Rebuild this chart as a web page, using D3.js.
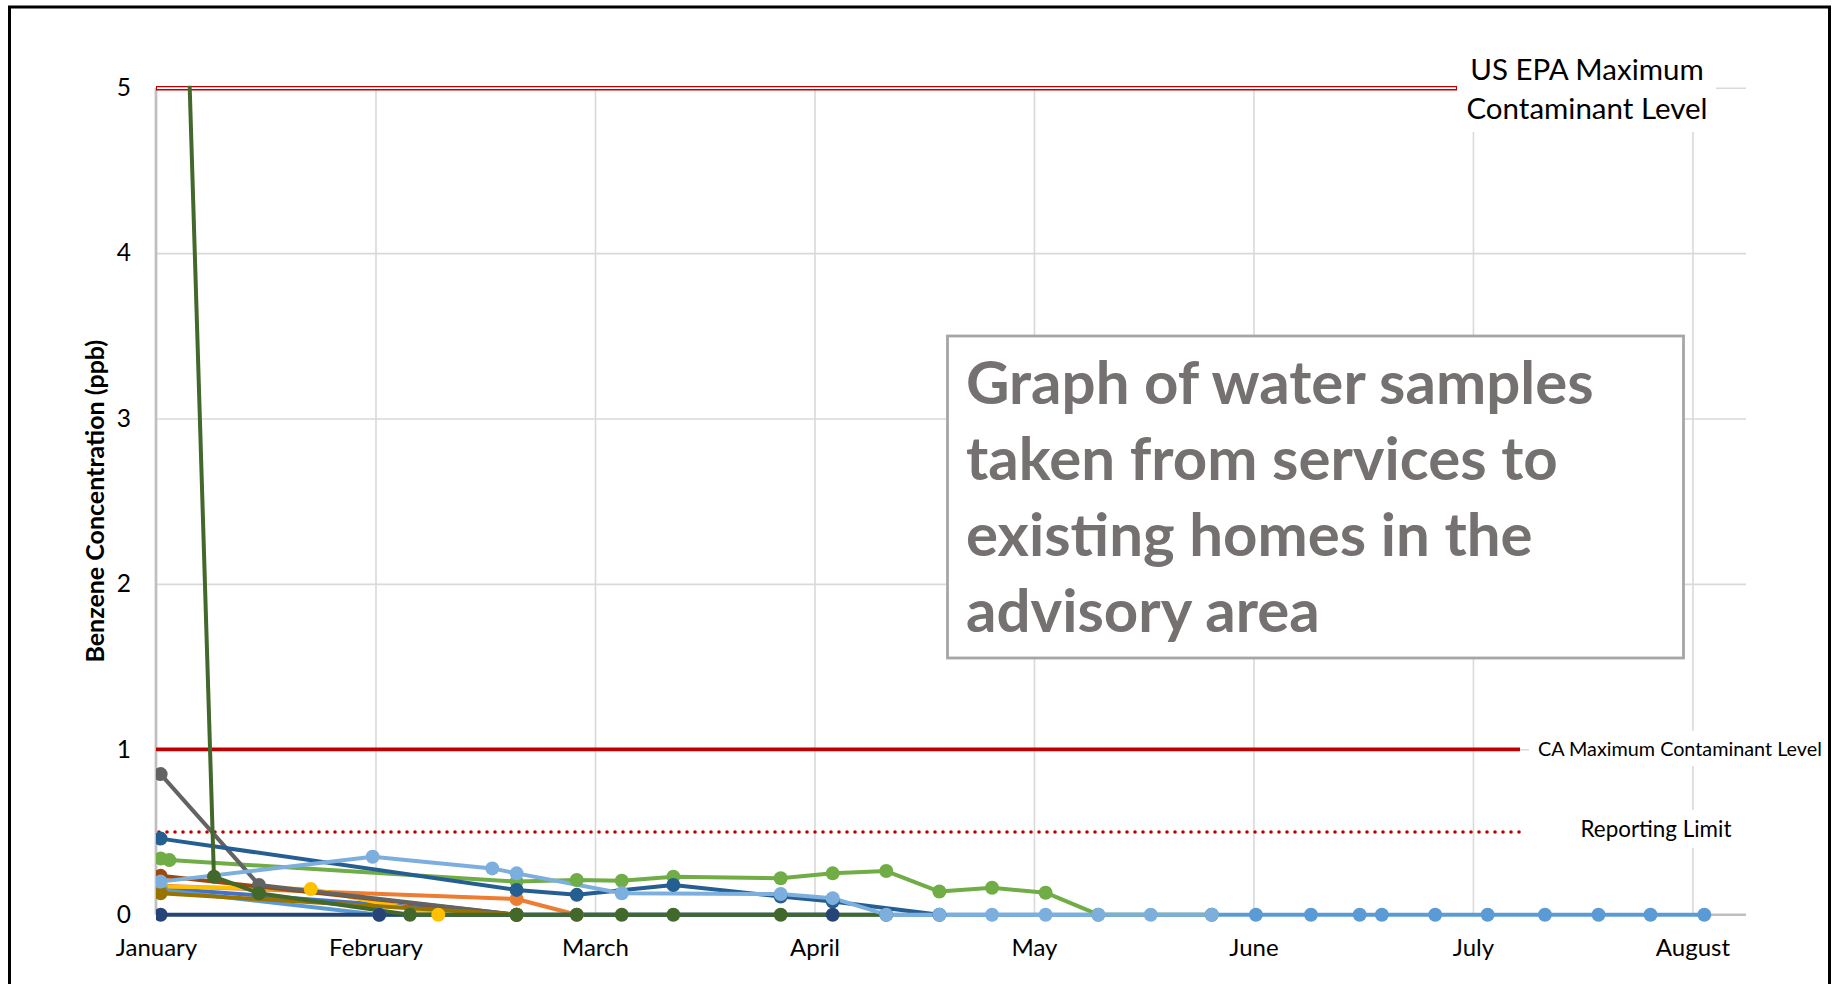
<!DOCTYPE html>
<html>
<head>
<meta charset="utf-8">
<script src="https://cdn.jsdelivr.net/npm/d3@7"></script>
<style>
  body { margin: 0; background: #fff; }
  text { font-family: Lato, "Open Sans", sans-serif; }
</style>
</head>
<body>
<div id="chart"></div>
<script>
// month labels on the x axis (x values are months since January 1st)
var monthLabels = ["January", "February", "March", "April", "May", "June", "July", "August"];
var yTickValues = [0, 1, 2, 3, 4, 5];

// reference levels (ppb)
var epaMcl = 5, caMcl = 1, reportingLimit = 0.5;
var epaLabel = ["US EPA Maximum", "Contaminant Level"];
var caLabel = "CA Maximum Contaminant Level";
var rlLabel = "Reporting Limit";
var titleLines = ["Graph of water samples", "taken from services to", "existing homes in the", "advisory area"];
var yTitle = "Benzene Concentration (ppb)";

// sampled services: months and benzene (ppb)
var blueMonths = [0.021, 1.643];
var bluePpb = [0.16, 0];
var orangeMonths = [0.021, 1.643, 1.917];
var orangePpb = [0.175, 0.095, 0];
var goldMonths = [0.021, 0.705, 1.286];
var goldPpb = [0.17, 0.155, 0];
var midBlueMonths = [0.021, 1.017, 4.81, 5.011, 5.262, 5.484, 5.585, 5.828, 6.067, 6.328, 6.572, 6.809, 7.054];
var midBluePpb = [0.15, 0, 0, 0, 0, 0, 0, 0, 0, 0, 0, 0, 0];
var greenMonths = [0.021, 0.061, 1.643, 1.917, 2.122, 2.357, 2.846, 3.083, 3.327, 3.569, 3.809, 4.053, 4.293, 4.81];
var greenPpb = [0.34, 0.33, 0.20, 0.21, 0.205, 0.23, 0.22, 0.25, 0.264, 0.14, 0.163, 0.133, 0, 0];
var navyMonths = [0.021, 1.017, 3.083];
var navyPpb = [0, 0, 0];
var brownMonths = [0.021, 1.643];
var brownPpb = [0.235, 0];
var darkGrayMonths = [0.021, 0.469, 1.643];
var darkGrayPpb = [0.85, 0.18, 0];
var darkGoldMonths = [0.021, 1.643];
var darkGoldPpb = [0.13, 0];
var darkBlueMonths = [0.021, 1.643, 1.917, 2.357, 2.846, 3.083, 3.569];
var darkBluePpb = [0.46, 0.15, 0.12, 0.18, 0.11, 0.08, 0];
var darkGreenMonths = [0.142, 0.264, 0.469, 1.157, 1.643, 1.917, 2.122, 2.357, 2.846, 3.327];
var darkGreenPpb = [5.5, 0.23, 0.13, 0, 0, 0, 0, 0, 0, 0];
var lightBlueMonths = [0.021, 0.987, 1.532, 1.643, 2.122, 2.846, 3.083, 3.327, 3.569, 3.809, 4.053, 4.293, 4.532, 4.81];
var lightBluePpb = [0.20, 0.35, 0.28, 0.25, 0.13, 0.125, 0.10, 0, 0, 0, 0, 0, 0, 0];

var seriesMonths = [blueMonths, orangeMonths, goldMonths, midBlueMonths, greenMonths, navyMonths,
  brownMonths, darkGrayMonths, darkGoldMonths, darkBlueMonths, darkGreenMonths, lightBlueMonths];
var seriesPpb = [bluePpb, orangePpb, goldPpb, midBluePpb, greenPpb, navyPpb,
  brownPpb, darkGrayPpb, darkGoldPpb, darkBluePpb, darkGreenPpb, lightBluePpb];
var seriesColors = ["#4472c4", "#ed7d31", "#ffc000", "#5b9bd5", "#70ad47", "#264478",
  "#9e480e", "#636363", "#997300", "#255e91", "#43682b", "#7cafdd"];

var width = 1835, height = 984,
    plotLeft = 156, plotRight = 1746, plotTop = 87.7, plotBottom = 914.7;

var svg = d3.select("#chart").append("svg")
    .attr("width", width)
    .attr("height", height);

var x = d3.scaleLinear().domain([0, 7.244]).range([plotLeft, plotRight]);
var y = d3.scaleLinear().domain([0, 5]).range([plotBottom, plotTop]);

// gridlines
var xGrid = svg.append("g")
    .attr("transform", "translate(0," + plotBottom + ")")
    .call(d3.axisBottom(x).tickValues(d3.range(1, 8)).tickSize(-(plotBottom - plotTop)).tickFormat(""));
xGrid.select(".domain").remove();
xGrid.selectAll("line").attr("stroke", "#d9d9d9").attr("stroke-width", 1.6);

var yGrid = svg.append("g")
    .attr("transform", "translate(" + plotLeft + ",0)")
    .call(d3.axisLeft(y).tickValues([1, 2, 3, 4, 5]).tickSize(-(plotRight - plotLeft)).tickFormat(""));
yGrid.select(".domain").remove();
yGrid.selectAll("line").attr("stroke", "#d9d9d9").attr("stroke-width", 1.6);

// axis lines
svg.append("line").attr("x1", plotLeft).attr("x2", plotRight).attr("y1", y(0)).attr("y2", y(0))
    .attr("stroke", "#bfbfbf").attr("stroke-width", 2.5);
svg.append("line").attr("x1", plotLeft).attr("x2", plotLeft).attr("y1", plotTop).attr("y2", plotBottom)
    .attr("stroke", "#bfbfbf").attr("stroke-width", 2.7);

// tick labels
var xAxis = svg.append("g")
    .attr("transform", "translate(0," + plotBottom + ")")
    .call(d3.axisBottom(x).tickValues(d3.range(0, 8)).tickSize(0).tickFormat(function(i) { return monthLabels[i]; }));
xAxis.select(".domain").remove();
xAxis.selectAll("text").attr("y", 41.5).attr("dy", null)
    .style("font-size", "24px").attr("fill", "#000");

var yAxis = svg.append("g")
    .attr("transform", "translate(" + plotLeft + ",0)")
    .call(d3.axisLeft(y).tickValues(yTickValues).tickSize(0).tickPadding(25).tickFormat(d3.format("d")));
yAxis.select(".domain").remove();
yAxis.selectAll("text").style("font-size", "24.5px").attr("fill", "#000");

svg.append("text")
    .attr("transform", "translate(94," + ((plotTop + plotBottom) / 2) + ") rotate(-90)")
    .attr("text-anchor", "middle")
    .attr("dominant-baseline", "central")
    .style("font-size", "25px").style("font-weight", "bold")
    .text(yTitle);

// reference lines
var xEndEpa = 1457, xEndCa = 1520;
svg.append("line").attr("x1", plotLeft).attr("x2", xEndEpa).attr("y1", y(epaMcl) + 0.5).attr("y2", y(epaMcl) + 0.5)
    .attr("stroke", "#c00000").attr("stroke-width", 4.6);
svg.append("line").attr("x1", plotLeft + 1).attr("x2", xEndEpa - 1).attr("y1", y(epaMcl) + 0.5).attr("y2", y(epaMcl) + 0.5)
    .attr("stroke", "#fff").attr("stroke-width", 1.8);
svg.append("line").attr("x1", plotLeft).attr("x2", xEndCa).attr("y1", y(caMcl)).attr("y2", y(caMcl))
    .attr("stroke", "#c00000").attr("stroke-width", 3.8);
svg.append("line").attr("x1", plotLeft + 3).attr("x2", xEndCa).attr("y1", y(reportingLimit)).attr("y2", y(reportingLimit))
    .attr("stroke", "#c00000").attr("stroke-width", 3.6)
    .attr("stroke-linecap", "round").attr("stroke-dasharray", "0 8");

// label backgrounds + labels
svg.append("rect").attr("x", xEndEpa).attr("y", 38).attr("width", 259).attr("height", 94).attr("fill", "#fff");
svg.append("rect").attr("x", 1529).attr("y", 731).attr("width", 298).attr("height", 35).attr("fill", "#fff");
svg.append("rect").attr("x", 1575).attr("y", 810).attr("width", 165).attr("height", 38).attr("fill", "#fff");

svg.append("text").attr("x", 1587).attr("y", 79.5).attr("text-anchor", "middle")
    .style("font-size", "29.5px").text(epaLabel[0]);
svg.append("text").attr("x", 1587).attr("y", 119).attr("text-anchor", "middle")
    .style("font-size", "29.5px").text(epaLabel[1]);
svg.append("text").attr("x", 1538).attr("y", 756).style("font-size", "19.8px").text(caLabel);
svg.append("text").attr("x", 1656).attr("y", 837).attr("text-anchor", "middle")
    .style("font-size", "22.4px").text(rlLabel);

// data
svg.append("clipPath").attr("id", "plotClip")
  .append("rect").attr("x", plotLeft).attr("y", plotTop - 2)
    .attr("width", plotRight - plotLeft).attr("height", height - plotTop);

var series = seriesMonths.map(function(ms, i) {
  return ms.map(function(m, j) { return {m: m, v: seriesPpb[i][j], color: seriesColors[i]}; });
});

var line = d3.line()
    .x(function(d) { return x(d.m); })
    .y(function(d) { return y(d.v); });

svg.append("g").attr("clip-path", "url(#plotClip)")
  .selectAll("path")
    .data(series)
  .enter().append("path")
    .attr("d", line)
    .attr("fill", "none")
    .attr("stroke", function(d) { return d[0].color; })
    .attr("stroke-width", 4)
    .attr("stroke-linejoin", "round")
    .attr("stroke-linecap", "round");

var markers = svg.append("g").attr("clip-path", "url(#plotClip)");
series.forEach(function(s) {
  markers.selectAll(null)
      .data(s)
    .enter().append("circle")
      .attr("cx", function(d) { return x(d.m); })
      .attr("cy", function(d) { return y(d.v); })
      .attr("r", 7)
      .attr("fill", function(d) { return d.color; });
});

// title box
svg.append("rect").attr("x", 947.5).attr("y", 336).attr("width", 736).attr("height", 322)
    .attr("fill", "#fff").attr("stroke", "#a6a6a6").attr("stroke-width", 2.8);
svg.selectAll(".title")
    .data(titleLines)
  .enter().append("text")
    .attr("class", "title")
    .attr("x", 966)
    .attr("y", function(d, i) { return 404 + i * 76; })
    .style("font-size", "60px").style("font-weight", "bold")
    .attr("fill", "#767171")
    .text(function(d) { return d; });

// outer frame
svg.append("rect").attr("x", 9.5).attr("y", 7).attr("width", 1820).attr("height", 1000)
    .attr("fill", "none").attr("stroke", "#000").attr("stroke-width", 3);
</script>
</body>
</html>
